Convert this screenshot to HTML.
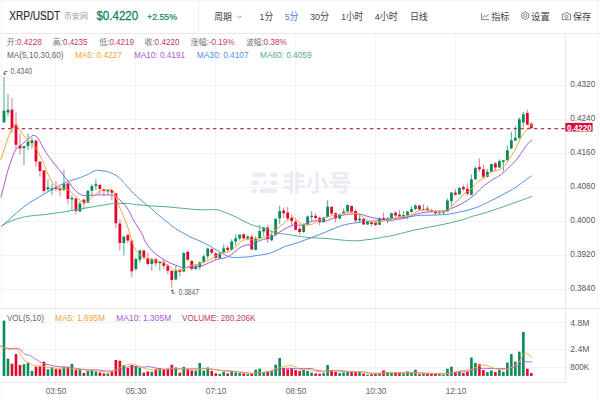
<!DOCTYPE html>
<html lang="zh"><head><meta charset="utf-8"><title>XRP/USDT</title>
<style>html,body{margin:0;padding:0;background:#fff;overflow:hidden}svg{display:block}</style></head>
<body>
<svg width="600" height="400" viewBox="0 0 600 400" font-family='"Liberation Sans", "Noto Sans CJK SC", sans-serif'>
<rect width="600" height="400" fill="#ffffff"/>
<g stroke="#f3f3f3" stroke-width="1" shape-rendering="crispEdges">
<line x1="55.5" y1="34" x2="55.5" y2="385"/>
<line x1="135.5" y1="34" x2="135.5" y2="385"/>
<line x1="215.5" y1="34" x2="215.5" y2="385"/>
<line x1="295.5" y1="34" x2="295.5" y2="385"/>
<line x1="375.5" y1="34" x2="375.5" y2="385"/>
<line x1="455.5" y1="34" x2="455.5" y2="385"/>
<line x1="0" y1="85.5" x2="569" y2="85.5"/>
<line x1="0" y1="119.5" x2="569" y2="119.5"/>
<line x1="0" y1="153.5" x2="569" y2="153.5"/>
<line x1="0" y1="187.5" x2="569" y2="187.5"/>
<line x1="0" y1="221.5" x2="569" y2="221.5"/>
<line x1="0" y1="255.5" x2="569" y2="255.5"/>
<line x1="0" y1="289.5" x2="569" y2="289.5"/>
<line x1="0" y1="322.5" x2="569" y2="322.5"/>
<line x1="0" y1="349.5" x2="569" y2="349.5"/>
<line x1="0" y1="367.5" x2="569" y2="367.5"/>
</g>
<g stroke="#e9e9e9" stroke-width="1" shape-rendering="crispEdges">
<line x1="0" y1="33.5" x2="600" y2="33.5"/>
<line x1="198.5" y1="0" x2="198.5" y2="33" stroke="#efefef"/>
<line x1="0" y1="308.5" x2="600" y2="308.5"/>
<line x1="0" y1="382" x2="566" y2="382"/>
<line x1="565.5" y1="34" x2="565.5" y2="382"/>
</g>
<g stroke="#f4f5f9" stroke-width="1" shape-rendering="crispEdges"><line x1="1.5" y1="0" x2="1.5" y2="400"/><line x1="597.5" y1="0" x2="597.5" y2="400"/><line x1="0" y1="0.5" x2="600" y2="0.5"/></g>
<g fill="#e9ecf3">
<rect x="251.5" y="172.5" width="15" height="4.6" rx="2.3"/>
<rect x="270" y="172.5" width="7.5" height="4.6" rx="2.3"/>
<rect x="251.5" y="180.5" width="8" height="4.6" rx="2.3"/>
<rect x="263" y="180.5" width="4" height="4.6" rx="2.3"/>
<rect x="270" y="180.5" width="7.5" height="4.6" rx="2.3"/>
<rect x="251.5" y="188.5" width="5.5" height="4.6" rx="2.3"/>
<rect x="259.5" y="188.5" width="18" height="4.6" rx="2.3"/>
</g>
<text x="282.5" y="190.5" font-size="23" fill="#e9ecf3" textLength="69" lengthAdjust="spacingAndGlyphs" font-weight="bold">非小号</text>
<g>
<line x1="4.0" y1="76.75" x2="4.0" y2="122.50" stroke="#62b298" stroke-width="1.1"/>
<rect x="2.60" y="110.80" width="2.8" height="11.60" fill="#0a8a58" rx="0.3"/>
<line x1="7.995" y1="94.30" x2="7.995" y2="116.00" stroke="#62b298" stroke-width="1.1"/>
<rect x="6.60" y="109.70" width="2.8" height="2.80" fill="#0a8a58" rx="0.3"/>
<line x1="11.99" y1="97.75" x2="11.99" y2="133.00" stroke="#ea8195" stroke-width="1.1"/>
<rect x="10.59" y="109.50" width="2.8" height="18.50" fill="#e2062c" rx="0.3"/>
<line x1="15.985" y1="112.40" x2="15.985" y2="149.40" stroke="#ea8195" stroke-width="1.1"/>
<rect x="14.58" y="124.50" width="2.8" height="20.20" fill="#e2062c" rx="0.3"/>
<line x1="19.98" y1="133.50" x2="19.98" y2="154.40" stroke="#ea8195" stroke-width="1.1"/>
<rect x="18.58" y="145.50" width="2.8" height="3.10" fill="#e2062c" rx="0.3"/>
<line x1="23.975" y1="146.00" x2="23.975" y2="165.30" stroke="#62b298" stroke-width="1.1"/>
<rect x="22.58" y="146.00" width="2.8" height="2.20" fill="#0a8a58" rx="0.3"/>
<line x1="27.97" y1="133.50" x2="27.97" y2="150.30" stroke="#62b298" stroke-width="1.1"/>
<rect x="26.57" y="141.90" width="2.8" height="4.10" fill="#0a8a58" rx="0.3"/>
<line x1="31.965" y1="137.70" x2="31.965" y2="148.60" stroke="#62b298" stroke-width="1.1"/>
<rect x="30.57" y="140.20" width="2.8" height="3.00" fill="#0a8a58" rx="0.3"/>
<line x1="35.96" y1="138.90" x2="35.96" y2="166.75" stroke="#ea8195" stroke-width="1.1"/>
<rect x="34.56" y="140.70" width="2.8" height="20.80" fill="#e2062c" rx="0.3"/>
<line x1="39.955" y1="161.40" x2="39.955" y2="176.80" stroke="#ea8195" stroke-width="1.1"/>
<rect x="38.55" y="161.40" width="2.8" height="9.50" fill="#e2062c" rx="0.3"/>
<line x1="43.95" y1="170.00" x2="43.95" y2="193.20" stroke="#ea8195" stroke-width="1.1"/>
<rect x="42.55" y="170.40" width="2.8" height="20.60" fill="#e2062c" rx="0.3"/>
<line x1="47.945" y1="179.30" x2="47.945" y2="191.90" stroke="#62b298" stroke-width="1.1"/>
<rect x="46.55" y="187.20" width="2.8" height="2.20" fill="#0a8a58" rx="0.3"/>
<line x1="51.94" y1="183.50" x2="51.94" y2="194.90" stroke="#62b298" stroke-width="1.1"/>
<rect x="50.54" y="188.20" width="2.8" height="2.00" fill="#0a8a58" rx="0.3"/>
<line x1="55.935" y1="181.00" x2="55.935" y2="191.00" stroke="#ea8195" stroke-width="1.1"/>
<rect x="54.54" y="187.20" width="2.8" height="1.70" fill="#e2062c" rx="0.3"/>
<line x1="59.93" y1="186.00" x2="59.93" y2="195.60" stroke="#ea8195" stroke-width="1.1"/>
<rect x="58.53" y="188.20" width="2.8" height="2.00" fill="#e2062c" rx="0.3"/>
<line x1="63.925000000000004" y1="170.10" x2="63.925000000000004" y2="191.00" stroke="#62b298" stroke-width="1.1"/>
<rect x="62.53" y="183.50" width="2.8" height="6.70" fill="#0a8a58" rx="0.3"/>
<line x1="67.92" y1="182.70" x2="67.92" y2="204.40" stroke="#ea8195" stroke-width="1.1"/>
<rect x="66.52" y="183.50" width="2.8" height="15.40" fill="#e2062c" rx="0.3"/>
<line x1="71.915" y1="195.20" x2="71.915" y2="210.30" stroke="#62b298" stroke-width="1.1"/>
<rect x="70.52" y="197.70" width="2.8" height="1.70" fill="#0a8a58" rx="0.3"/>
<line x1="75.91" y1="197.70" x2="75.91" y2="213.70" stroke="#ea8195" stroke-width="1.1"/>
<rect x="74.51" y="198.60" width="2.8" height="12.50" fill="#e2062c" rx="0.3"/>
<line x1="79.905" y1="201.10" x2="79.905" y2="212.30" stroke="#62b298" stroke-width="1.1"/>
<rect x="78.50" y="203.60" width="2.8" height="8.00" fill="#0a8a58" rx="0.3"/>
<line x1="83.9" y1="199.40" x2="83.9" y2="209.50" stroke="#ea8195" stroke-width="1.1"/>
<rect x="82.50" y="199.40" width="2.8" height="3.90" fill="#e2062c" rx="0.3"/>
<line x1="87.895" y1="190.20" x2="87.895" y2="203.00" stroke="#62b298" stroke-width="1.1"/>
<rect x="86.49" y="190.70" width="2.8" height="12.10" fill="#0a8a58" rx="0.3"/>
<line x1="91.89" y1="184.30" x2="91.89" y2="196.00" stroke="#62b298" stroke-width="1.1"/>
<rect x="90.49" y="186.00" width="2.8" height="4.70" fill="#0a8a58" rx="0.3"/>
<line x1="95.885" y1="179.30" x2="95.885" y2="190.20" stroke="#62b298" stroke-width="1.1"/>
<rect x="94.48" y="184.30" width="2.8" height="1.70" fill="#0a8a58" rx="0.3"/>
<line x1="99.88" y1="184.80" x2="99.88" y2="193.90" stroke="#ea8195" stroke-width="1.1"/>
<rect x="98.48" y="184.80" width="2.8" height="4.10" fill="#e2062c" rx="0.3"/>
<line x1="103.875" y1="188.50" x2="103.875" y2="196.00" stroke="#ea8195" stroke-width="1.1"/>
<rect x="102.47" y="188.90" width="2.8" height="2.10" fill="#e2062c" rx="0.3"/>
<line x1="107.87" y1="189.40" x2="107.87" y2="194.40" stroke="#62b298" stroke-width="1.1"/>
<rect x="106.47" y="190.20" width="2.8" height="1.30" fill="#0a8a58" rx="0.3"/>
<line x1="111.86500000000001" y1="189.90" x2="111.86500000000001" y2="200.25" stroke="#ea8195" stroke-width="1.1"/>
<rect x="110.47" y="189.90" width="2.8" height="2.80" fill="#e2062c" rx="0.3"/>
<line x1="115.86" y1="193.00" x2="115.86" y2="227.70" stroke="#ea8195" stroke-width="1.1"/>
<rect x="114.46" y="193.30" width="2.8" height="29.90" fill="#e2062c" rx="0.3"/>
<line x1="119.855" y1="219.30" x2="119.855" y2="250.50" stroke="#ea8195" stroke-width="1.1"/>
<rect x="118.45" y="223.50" width="2.8" height="19.50" fill="#e2062c" rx="0.3"/>
<line x1="123.85000000000001" y1="236.35" x2="123.85000000000001" y2="255.60" stroke="#62b298" stroke-width="1.1"/>
<rect x="122.45" y="236.50" width="2.8" height="6.50" fill="#0a8a58" rx="0.3"/>
<line x1="127.845" y1="234.70" x2="127.845" y2="243.00" stroke="#ea8195" stroke-width="1.1"/>
<rect x="126.44" y="234.80" width="2.8" height="5.70" fill="#e2062c" rx="0.3"/>
<line x1="131.84" y1="240.50" x2="131.84" y2="276.90" stroke="#ea8195" stroke-width="1.1"/>
<rect x="130.44" y="240.50" width="2.8" height="30.70" fill="#e2062c" rx="0.3"/>
<line x1="135.835" y1="257.30" x2="135.835" y2="270.70" stroke="#62b298" stroke-width="1.1"/>
<rect x="134.44" y="259.00" width="2.8" height="10.00" fill="#0a8a58" rx="0.3"/>
<line x1="139.83" y1="250.25" x2="139.83" y2="262.80" stroke="#62b298" stroke-width="1.1"/>
<rect x="138.43" y="250.25" width="2.8" height="9.55" fill="#0a8a58" rx="0.3"/>
<line x1="143.82500000000002" y1="249.75" x2="143.82500000000002" y2="259.00" stroke="#ea8195" stroke-width="1.1"/>
<rect x="142.43" y="250.60" width="2.8" height="7.20" fill="#e2062c" rx="0.3"/>
<line x1="147.82" y1="253.10" x2="147.82" y2="265.70" stroke="#ea8195" stroke-width="1.1"/>
<rect x="146.42" y="258.10" width="2.8" height="5.90" fill="#e2062c" rx="0.3"/>
<line x1="151.815" y1="258.10" x2="151.815" y2="270.70" stroke="#62b298" stroke-width="1.1"/>
<rect x="150.41" y="259.50" width="2.8" height="4.50" fill="#0a8a58" rx="0.3"/>
<line x1="155.81" y1="257.80" x2="155.81" y2="266.50" stroke="#ea8195" stroke-width="1.1"/>
<rect x="154.41" y="259.00" width="2.8" height="4.15" fill="#e2062c" rx="0.3"/>
<line x1="159.805" y1="261.50" x2="159.805" y2="270.70" stroke="#62b298" stroke-width="1.1"/>
<rect x="158.41" y="261.50" width="2.8" height="1.65" fill="#0a8a58" rx="0.3"/>
<line x1="163.8" y1="259.80" x2="163.8" y2="269.00" stroke="#ea8195" stroke-width="1.1"/>
<rect x="162.40" y="262.30" width="2.8" height="3.40" fill="#e2062c" rx="0.3"/>
<line x1="167.79500000000002" y1="264.00" x2="167.79500000000002" y2="274.00" stroke="#ea8195" stroke-width="1.1"/>
<rect x="166.40" y="265.70" width="2.8" height="5.00" fill="#e2062c" rx="0.3"/>
<line x1="171.79" y1="270.70" x2="171.79" y2="287.40" stroke="#ea8195" stroke-width="1.1"/>
<rect x="170.39" y="270.70" width="2.8" height="9.20" fill="#e2062c" rx="0.3"/>
<line x1="175.785" y1="265.70" x2="175.785" y2="280.00" stroke="#62b298" stroke-width="1.1"/>
<rect x="174.38" y="270.20" width="2.8" height="9.40" fill="#0a8a58" rx="0.3"/>
<line x1="179.78" y1="269.00" x2="179.78" y2="276.55" stroke="#ea8195" stroke-width="1.1"/>
<rect x="178.38" y="269.85" width="2.8" height="2.05" fill="#e2062c" rx="0.3"/>
<line x1="183.775" y1="252.30" x2="183.775" y2="271.90" stroke="#62b298" stroke-width="1.1"/>
<rect x="182.38" y="253.10" width="2.8" height="18.40" fill="#0a8a58" rx="0.3"/>
<line x1="187.77" y1="250.60" x2="187.77" y2="261.50" stroke="#ea8195" stroke-width="1.1"/>
<rect x="186.37" y="251.80" width="2.8" height="8.00" fill="#e2062c" rx="0.3"/>
<line x1="191.76500000000001" y1="259.80" x2="191.76500000000001" y2="270.70" stroke="#ea8195" stroke-width="1.1"/>
<rect x="190.37" y="261.10" width="2.8" height="7.90" fill="#e2062c" rx="0.3"/>
<line x1="195.76" y1="264.00" x2="195.76" y2="269.85" stroke="#62b298" stroke-width="1.1"/>
<rect x="194.36" y="265.70" width="2.8" height="3.30" fill="#0a8a58" rx="0.3"/>
<line x1="199.755" y1="261.50" x2="199.755" y2="269.85" stroke="#62b298" stroke-width="1.1"/>
<rect x="198.35" y="262.30" width="2.8" height="5.00" fill="#0a8a58" rx="0.3"/>
<line x1="203.75" y1="254.40" x2="203.75" y2="263.60" stroke="#62b298" stroke-width="1.1"/>
<rect x="202.35" y="256.30" width="2.8" height="5.80" fill="#0a8a58" rx="0.3"/>
<line x1="207.745" y1="247.70" x2="207.745" y2="259.60" stroke="#62b298" stroke-width="1.1"/>
<rect x="206.34" y="248.40" width="2.8" height="7.90" fill="#0a8a58" rx="0.3"/>
<line x1="211.74" y1="248.20" x2="211.74" y2="254.40" stroke="#ea8195" stroke-width="1.1"/>
<rect x="210.34" y="248.90" width="2.8" height="3.80" fill="#e2062c" rx="0.3"/>
<line x1="215.735" y1="252.40" x2="215.735" y2="260.30" stroke="#ea8195" stroke-width="1.1"/>
<rect x="214.34" y="253.20" width="2.8" height="4.60" fill="#e2062c" rx="0.3"/>
<line x1="219.73000000000002" y1="251.90" x2="219.73000000000002" y2="258.60" stroke="#62b298" stroke-width="1.1"/>
<rect x="218.33" y="253.20" width="2.8" height="5.10" fill="#0a8a58" rx="0.3"/>
<line x1="223.725" y1="244.40" x2="223.725" y2="253.60" stroke="#62b298" stroke-width="1.1"/>
<rect x="222.32" y="248.20" width="2.8" height="4.50" fill="#0a8a58" rx="0.3"/>
<line x1="227.72" y1="246.00" x2="227.72" y2="251.90" stroke="#ea8195" stroke-width="1.1"/>
<rect x="226.32" y="247.70" width="2.8" height="2.20" fill="#e2062c" rx="0.3"/>
<line x1="231.715" y1="239.30" x2="231.715" y2="250.20" stroke="#62b298" stroke-width="1.1"/>
<rect x="230.31" y="241.50" width="2.8" height="8.40" fill="#0a8a58" rx="0.3"/>
<line x1="235.71" y1="234.30" x2="235.71" y2="245.20" stroke="#62b298" stroke-width="1.1"/>
<rect x="234.31" y="238.20" width="2.8" height="3.30" fill="#0a8a58" rx="0.3"/>
<line x1="239.705" y1="234.30" x2="239.705" y2="240.50" stroke="#62b298" stroke-width="1.1"/>
<rect x="238.31" y="234.80" width="2.8" height="3.70" fill="#0a8a58" rx="0.3"/>
<line x1="243.70000000000002" y1="233.80" x2="243.70000000000002" y2="239.30" stroke="#ea8195" stroke-width="1.1"/>
<rect x="242.30" y="234.30" width="2.8" height="4.20" fill="#e2062c" rx="0.3"/>
<line x1="247.695" y1="235.15" x2="247.695" y2="240.20" stroke="#62b298" stroke-width="1.1"/>
<rect x="246.29" y="236.50" width="2.8" height="2.00" fill="#0a8a58" rx="0.3"/>
<line x1="251.69" y1="234.30" x2="251.69" y2="249.90" stroke="#ea8195" stroke-width="1.1"/>
<rect x="250.29" y="236.80" width="2.8" height="12.60" fill="#e2062c" rx="0.3"/>
<line x1="255.685" y1="236.00" x2="255.685" y2="250.20" stroke="#62b298" stroke-width="1.1"/>
<rect x="254.28" y="238.50" width="2.8" height="11.40" fill="#0a8a58" rx="0.3"/>
<line x1="259.68" y1="225.10" x2="259.68" y2="239.30" stroke="#62b298" stroke-width="1.1"/>
<rect x="258.28" y="231.00" width="2.8" height="7.50" fill="#0a8a58" rx="0.3"/>
<line x1="263.675" y1="226.80" x2="263.675" y2="236.00" stroke="#62b298" stroke-width="1.1"/>
<rect x="262.28" y="227.60" width="2.8" height="3.90" fill="#0a8a58" rx="0.3"/>
<line x1="267.67" y1="225.10" x2="267.67" y2="242.70" stroke="#ea8195" stroke-width="1.1"/>
<rect x="266.27" y="227.60" width="2.8" height="11.70" fill="#e2062c" rx="0.3"/>
<line x1="271.665" y1="231.00" x2="271.665" y2="241.00" stroke="#62b298" stroke-width="1.1"/>
<rect x="270.27" y="235.15" width="2.8" height="5.05" fill="#0a8a58" rx="0.3"/>
<line x1="275.66" y1="218.40" x2="275.66" y2="236.00" stroke="#62b298" stroke-width="1.1"/>
<rect x="274.26" y="218.70" width="2.8" height="16.10" fill="#0a8a58" rx="0.3"/>
<line x1="279.65500000000003" y1="205.80" x2="279.65500000000003" y2="224.30" stroke="#62b298" stroke-width="1.1"/>
<rect x="278.26" y="210.90" width="2.8" height="7.50" fill="#0a8a58" rx="0.3"/>
<line x1="283.65000000000003" y1="207.50" x2="283.65000000000003" y2="218.40" stroke="#ea8195" stroke-width="1.1"/>
<rect x="282.25" y="210.50" width="2.8" height="2.80" fill="#e2062c" rx="0.3"/>
<line x1="287.645" y1="207.00" x2="287.645" y2="220.00" stroke="#ea8195" stroke-width="1.1"/>
<rect x="286.25" y="212.40" width="2.8" height="6.20" fill="#e2062c" rx="0.3"/>
<line x1="291.64" y1="214.30" x2="291.64" y2="225.50" stroke="#ea8195" stroke-width="1.1"/>
<rect x="290.24" y="217.80" width="2.8" height="3.20" fill="#e2062c" rx="0.3"/>
<line x1="295.635" y1="218.40" x2="295.635" y2="230.20" stroke="#ea8195" stroke-width="1.1"/>
<rect x="294.24" y="221.80" width="2.8" height="7.90" fill="#e2062c" rx="0.3"/>
<line x1="299.63" y1="226.50" x2="299.63" y2="234.60" stroke="#ea8195" stroke-width="1.1"/>
<rect x="298.23" y="228.70" width="2.8" height="3.30" fill="#e2062c" rx="0.3"/>
<line x1="303.625" y1="223.50" x2="303.625" y2="232.70" stroke="#62b298" stroke-width="1.1"/>
<rect x="302.23" y="224.60" width="2.8" height="7.40" fill="#0a8a58" rx="0.3"/>
<line x1="307.62" y1="215.50" x2="307.62" y2="225.20" stroke="#62b298" stroke-width="1.1"/>
<rect x="306.22" y="216.50" width="2.8" height="8.10" fill="#0a8a58" rx="0.3"/>
<line x1="311.615" y1="211.20" x2="311.615" y2="220.40" stroke="#62b298" stroke-width="1.1"/>
<rect x="310.22" y="215.80" width="2.8" height="1.20" fill="#0a8a58" rx="0.3"/>
<line x1="315.61" y1="213.60" x2="315.61" y2="219.40" stroke="#ea8195" stroke-width="1.1"/>
<rect x="314.21" y="215.80" width="2.8" height="2.10" fill="#e2062c" rx="0.3"/>
<line x1="319.605" y1="216.80" x2="319.605" y2="225.10" stroke="#ea8195" stroke-width="1.1"/>
<rect x="318.21" y="217.70" width="2.8" height="4.60" fill="#e2062c" rx="0.3"/>
<line x1="323.6" y1="216.80" x2="323.6" y2="222.70" stroke="#62b298" stroke-width="1.1"/>
<rect x="322.20" y="217.60" width="2.8" height="4.70" fill="#0a8a58" rx="0.3"/>
<line x1="327.595" y1="200.30" x2="327.595" y2="217.70" stroke="#62b298" stroke-width="1.1"/>
<rect x="326.20" y="206.60" width="2.8" height="10.60" fill="#0a8a58" rx="0.3"/>
<line x1="331.59000000000003" y1="206.40" x2="331.59000000000003" y2="215.15" stroke="#ea8195" stroke-width="1.1"/>
<rect x="330.19" y="206.80" width="2.8" height="6.70" fill="#e2062c" rx="0.3"/>
<line x1="335.58500000000004" y1="212.60" x2="335.58500000000004" y2="222.20" stroke="#ea8195" stroke-width="1.1"/>
<rect x="334.19" y="213.10" width="2.8" height="5.40" fill="#e2062c" rx="0.3"/>
<line x1="339.58" y1="213.80" x2="339.58" y2="219.30" stroke="#62b298" stroke-width="1.1"/>
<rect x="338.18" y="214.30" width="2.8" height="4.20" fill="#0a8a58" rx="0.3"/>
<line x1="343.575" y1="208.45" x2="343.575" y2="214.30" stroke="#62b298" stroke-width="1.1"/>
<rect x="342.18" y="211.50" width="2.8" height="2.00" fill="#0a8a58" rx="0.3"/>
<line x1="347.57" y1="204.30" x2="347.57" y2="211.80" stroke="#62b298" stroke-width="1.1"/>
<rect x="346.17" y="205.10" width="2.8" height="6.40" fill="#0a8a58" rx="0.3"/>
<line x1="351.565" y1="205.40" x2="351.565" y2="212.60" stroke="#ea8195" stroke-width="1.1"/>
<rect x="350.17" y="205.90" width="2.8" height="5.90" fill="#e2062c" rx="0.3"/>
<line x1="355.56" y1="209.30" x2="355.56" y2="222.70" stroke="#ea8195" stroke-width="1.1"/>
<rect x="354.16" y="211.00" width="2.8" height="9.50" fill="#e2062c" rx="0.3"/>
<line x1="359.555" y1="214.30" x2="359.555" y2="221.85" stroke="#62b298" stroke-width="1.1"/>
<rect x="358.16" y="218.50" width="2.8" height="2.00" fill="#0a8a58" rx="0.3"/>
<line x1="363.55" y1="218.50" x2="363.55" y2="224.90" stroke="#ea8195" stroke-width="1.1"/>
<rect x="362.15" y="218.80" width="2.8" height="5.60" fill="#e2062c" rx="0.3"/>
<line x1="367.545" y1="221.00" x2="367.545" y2="224.90" stroke="#62b298" stroke-width="1.1"/>
<rect x="366.15" y="221.50" width="2.8" height="2.90" fill="#0a8a58" rx="0.3"/>
<line x1="371.54" y1="221.50" x2="371.54" y2="226.00" stroke="#ea8195" stroke-width="1.1"/>
<rect x="370.14" y="222.20" width="2.8" height="1.70" fill="#e2062c" rx="0.3"/>
<line x1="375.535" y1="222.20" x2="375.535" y2="226.00" stroke="#ea8195" stroke-width="1.1"/>
<rect x="374.14" y="222.70" width="2.8" height="2.20" fill="#e2062c" rx="0.3"/>
<line x1="379.53000000000003" y1="217.20" x2="379.53000000000003" y2="225.20" stroke="#62b298" stroke-width="1.1"/>
<rect x="378.13" y="218.50" width="2.8" height="6.20" fill="#0a8a58" rx="0.3"/>
<line x1="383.52500000000003" y1="212.60" x2="383.52500000000003" y2="220.30" stroke="#ea8195" stroke-width="1.1"/>
<rect x="382.13" y="217.90" width="2.8" height="2.10" fill="#e2062c" rx="0.3"/>
<line x1="387.52" y1="216.90" x2="387.52" y2="223.30" stroke="#62b298" stroke-width="1.1"/>
<rect x="386.12" y="218.60" width="2.8" height="1.70" fill="#0a8a58" rx="0.3"/>
<line x1="391.515" y1="212.70" x2="391.515" y2="219.40" stroke="#62b298" stroke-width="1.1"/>
<rect x="390.12" y="213.20" width="2.8" height="5.70" fill="#0a8a58" rx="0.3"/>
<line x1="395.51" y1="211.00" x2="395.51" y2="216.90" stroke="#ea8195" stroke-width="1.1"/>
<rect x="394.11" y="212.70" width="2.8" height="2.90" fill="#e2062c" rx="0.3"/>
<line x1="399.505" y1="210.20" x2="399.505" y2="217.20" stroke="#ea8195" stroke-width="1.1"/>
<rect x="398.11" y="214.40" width="2.8" height="2.20" fill="#e2062c" rx="0.3"/>
<line x1="403.5" y1="211.00" x2="403.5" y2="217.20" stroke="#62b298" stroke-width="1.1"/>
<rect x="402.10" y="214.90" width="2.8" height="1.70" fill="#0a8a58" rx="0.3"/>
<line x1="407.495" y1="211.00" x2="407.495" y2="219.40" stroke="#62b298" stroke-width="1.1"/>
<rect x="406.10" y="211.50" width="2.8" height="4.10" fill="#0a8a58" rx="0.3"/>
<line x1="411.49" y1="206.00" x2="411.49" y2="212.70" stroke="#62b298" stroke-width="1.1"/>
<rect x="410.09" y="208.90" width="2.8" height="3.00" fill="#0a8a58" rx="0.3"/>
<line x1="415.485" y1="204.30" x2="415.485" y2="210.20" stroke="#62b298" stroke-width="1.1"/>
<rect x="414.09" y="205.50" width="2.8" height="3.40" fill="#0a8a58" rx="0.3"/>
<line x1="419.48" y1="204.80" x2="419.48" y2="210.20" stroke="#ea8195" stroke-width="1.1"/>
<rect x="418.08" y="205.50" width="2.8" height="3.90" fill="#e2062c" rx="0.3"/>
<line x1="423.475" y1="204.30" x2="423.475" y2="211.00" stroke="#62b298" stroke-width="1.1"/>
<rect x="422.08" y="208.90" width="2.8" height="1.30" fill="#0a8a58" rx="0.3"/>
<line x1="427.47" y1="206.00" x2="427.47" y2="211.50" stroke="#ea8195" stroke-width="1.1"/>
<rect x="426.07" y="208.50" width="2.8" height="1.70" fill="#e2062c" rx="0.3"/>
<line x1="431.46500000000003" y1="208.90" x2="431.46500000000003" y2="212.20" stroke="#ea8195" stroke-width="1.1"/>
<rect x="430.07" y="209.90" width="2.8" height="1.60" fill="#e2062c" rx="0.3"/>
<line x1="435.46000000000004" y1="210.20" x2="435.46000000000004" y2="215.20" stroke="#ea8195" stroke-width="1.1"/>
<rect x="434.06" y="211.00" width="2.8" height="2.20" fill="#e2062c" rx="0.3"/>
<line x1="439.455" y1="211.00" x2="439.455" y2="214.40" stroke="#62b298" stroke-width="1.1"/>
<rect x="438.06" y="211.90" width="2.8" height="1.30" fill="#0a8a58" rx="0.3"/>
<line x1="443.45" y1="211.50" x2="443.45" y2="214.90" stroke="#62b298" stroke-width="1.1"/>
<rect x="442.05" y="211.90" width="2.8" height="1.20" fill="#0a8a58" rx="0.3"/>
<line x1="447.445" y1="198.50" x2="447.445" y2="211.90" stroke="#62b298" stroke-width="1.1"/>
<rect x="446.05" y="200.50" width="2.8" height="11.00" fill="#0a8a58" rx="0.3"/>
<line x1="451.44" y1="192.10" x2="451.44" y2="206.00" stroke="#62b298" stroke-width="1.1"/>
<rect x="450.04" y="192.60" width="2.8" height="8.40" fill="#0a8a58" rx="0.3"/>
<line x1="455.435" y1="189.30" x2="455.435" y2="195.50" stroke="#ea8195" stroke-width="1.1"/>
<rect x="454.04" y="192.60" width="2.8" height="2.20" fill="#e2062c" rx="0.3"/>
<line x1="459.43" y1="186.75" x2="459.43" y2="195.10" stroke="#62b298" stroke-width="1.1"/>
<rect x="458.03" y="188.10" width="2.8" height="6.20" fill="#0a8a58" rx="0.3"/>
<line x1="463.425" y1="184.70" x2="463.425" y2="190.70" stroke="#ea8195" stroke-width="1.1"/>
<rect x="462.03" y="187.00" width="2.8" height="2.30" fill="#e2062c" rx="0.3"/>
<line x1="467.42" y1="183.60" x2="467.42" y2="195.50" stroke="#ea8195" stroke-width="1.1"/>
<rect x="466.02" y="188.80" width="2.8" height="5.00" fill="#e2062c" rx="0.3"/>
<line x1="471.415" y1="174.50" x2="471.415" y2="195.50" stroke="#62b298" stroke-width="1.1"/>
<rect x="470.02" y="179.20" width="2.8" height="15.60" fill="#0a8a58" rx="0.3"/>
<line x1="475.41" y1="166.20" x2="475.41" y2="180.00" stroke="#62b298" stroke-width="1.1"/>
<rect x="474.01" y="168.10" width="2.8" height="11.10" fill="#0a8a58" rx="0.3"/>
<line x1="479.40500000000003" y1="158.50" x2="479.40500000000003" y2="171.80" stroke="#ea8195" stroke-width="1.1"/>
<rect x="478.01" y="167.10" width="2.8" height="2.20" fill="#e2062c" rx="0.3"/>
<line x1="483.40000000000003" y1="164.80" x2="483.40000000000003" y2="178.80" stroke="#ea8195" stroke-width="1.1"/>
<rect x="482.00" y="169.30" width="2.8" height="7.50" fill="#e2062c" rx="0.3"/>
<line x1="487.39500000000004" y1="169.30" x2="487.39500000000004" y2="177.60" stroke="#62b298" stroke-width="1.1"/>
<rect x="486.00" y="171.80" width="2.8" height="5.00" fill="#0a8a58" rx="0.3"/>
<line x1="491.39" y1="163.50" x2="491.39" y2="172.60" stroke="#62b298" stroke-width="1.1"/>
<rect x="489.99" y="164.00" width="2.8" height="7.80" fill="#0a8a58" rx="0.3"/>
<line x1="495.385" y1="162.00" x2="495.385" y2="170.90" stroke="#ea8195" stroke-width="1.1"/>
<rect x="493.99" y="163.50" width="2.8" height="4.10" fill="#e2062c" rx="0.3"/>
<line x1="499.38" y1="159.30" x2="499.38" y2="168.10" stroke="#62b298" stroke-width="1.1"/>
<rect x="497.98" y="161.00" width="2.8" height="6.60" fill="#0a8a58" rx="0.3"/>
<line x1="503.375" y1="160.00" x2="503.375" y2="171.40" stroke="#62b298" stroke-width="1.1"/>
<rect x="501.98" y="160.30" width="2.8" height="1.70" fill="#0a8a58" rx="0.3"/>
<line x1="507.37" y1="145.60" x2="507.37" y2="160.60" stroke="#62b298" stroke-width="1.1"/>
<rect x="505.97" y="150.25" width="2.8" height="10.05" fill="#0a8a58" rx="0.3"/>
<line x1="511.365" y1="131.80" x2="511.365" y2="149.00" stroke="#62b298" stroke-width="1.1"/>
<rect x="509.97" y="140.20" width="2.8" height="8.40" fill="#0a8a58" rx="0.3"/>
<line x1="515.36" y1="126.00" x2="515.36" y2="141.00" stroke="#62b298" stroke-width="1.1"/>
<rect x="513.96" y="137.70" width="2.8" height="2.80" fill="#0a8a58" rx="0.3"/>
<line x1="519.355" y1="117.60" x2="519.355" y2="139.40" stroke="#62b298" stroke-width="1.1"/>
<rect x="517.96" y="119.30" width="2.8" height="18.40" fill="#0a8a58" rx="0.3"/>
<line x1="523.35" y1="112.00" x2="523.35" y2="127.60" stroke="#62b298" stroke-width="1.1"/>
<rect x="521.95" y="114.20" width="2.8" height="8.40" fill="#0a8a58" rx="0.3"/>
<line x1="527.345" y1="109.70" x2="527.345" y2="125.00" stroke="#ea8195" stroke-width="1.1"/>
<rect x="525.95" y="113.10" width="2.8" height="11.70" fill="#e2062c" rx="0.3"/>
<line x1="531.34" y1="122.00" x2="531.34" y2="128.40" stroke="#ea8195" stroke-width="1.1"/>
<rect x="529.94" y="123.80" width="2.8" height="4.50" fill="#e2062c" rx="0.3"/>
</g>
<path d="M1.50 226.20C2.50 225.58 5.25 223.62 7.50 222.50C9.75 221.38 12.50 220.35 15.00 219.50C17.50 218.65 20.00 217.98 22.50 217.40C25.00 216.82 25.96 216.52 30.00 216.00C34.04 215.48 41.17 214.97 46.75 214.30C52.33 213.63 57.92 212.88 63.50 212.00C69.08 211.12 74.67 209.98 80.25 209.00C85.83 208.02 91.97 206.95 97.00 206.10C102.03 205.25 107.40 204.40 110.40 203.90C113.40 203.40 113.88 203.20 115.00 203.10C116.12 203.00 114.60 203.22 117.10 203.30C119.60 203.38 127.27 203.43 130.00 203.60C132.73 203.77 130.12 203.92 133.50 204.30C136.88 204.68 144.67 205.48 150.25 205.90C155.83 206.32 161.42 206.38 167.00 206.80C172.58 207.23 178.25 207.95 183.75 208.45C189.25 208.95 194.64 209.59 200.00 209.80C205.36 210.01 211.72 209.25 215.90 209.70C220.08 210.15 222.17 211.47 225.10 212.50C228.03 213.53 230.70 214.63 233.50 215.90C236.30 217.17 239.11 218.70 241.90 220.10C244.69 221.50 247.47 223.18 250.25 224.30C253.03 225.42 255.81 225.97 258.60 226.80C261.39 227.63 265.10 228.67 267.00 229.30C268.90 229.93 268.67 230.07 270.00 230.60C271.33 231.13 272.92 231.97 275.00 232.50C277.08 233.03 279.17 233.23 282.50 233.75C285.83 234.27 290.83 234.97 295.00 235.60C299.17 236.22 303.33 237.08 307.50 237.50C311.67 237.92 316.25 237.89 320.00 238.10C323.75 238.31 326.62 238.45 330.00 238.75C333.38 239.05 337.15 239.59 340.25 239.90C343.35 240.21 345.81 240.45 348.60 240.60C351.39 240.75 354.20 240.92 357.00 240.80C359.80 240.68 362.61 240.22 365.40 239.90C368.19 239.58 370.97 239.33 373.75 238.90C376.53 238.47 380.23 237.62 382.10 237.30C383.98 236.98 382.56 237.47 385.00 237.00C387.44 236.53 392.00 235.62 396.75 234.50C401.50 233.38 407.92 231.56 413.50 230.30C419.08 229.04 424.67 228.07 430.25 226.95C435.83 225.83 441.42 224.86 447.00 223.60C452.58 222.34 459.90 220.50 463.75 219.40C467.60 218.30 466.81 218.02 470.10 217.00C473.39 215.98 478.48 214.83 483.50 213.30C488.52 211.77 494.67 209.70 500.25 207.80C505.83 205.90 511.77 203.77 517.00 201.90C522.23 200.03 529.17 197.48 531.60 196.60" fill="none" stroke="#4fb184" stroke-width="1.0" stroke-linejoin="round" stroke-linecap="round"/>
<path d="M1.50 226.20C2.50 225.33 5.25 223.00 7.50 221.00C9.75 219.00 12.50 216.40 15.00 214.20C17.50 212.00 20.00 209.77 22.50 207.80C25.00 205.83 27.35 204.10 30.00 202.40C32.65 200.70 35.61 199.25 38.40 197.60C41.19 195.95 43.97 194.15 46.75 192.50C49.53 190.85 52.31 189.20 55.10 187.70C57.89 186.20 60.70 184.76 63.50 183.50C66.30 182.24 69.11 181.13 71.90 180.15C74.69 179.17 77.47 178.61 80.25 177.60C83.03 176.59 86.47 175.08 88.60 174.10C90.72 173.12 91.68 172.32 93.00 171.70C94.32 171.08 95.33 170.60 96.50 170.40C97.67 170.20 98.75 170.38 100.00 170.50C101.25 170.62 102.55 170.85 104.00 171.10C105.45 171.35 106.52 171.18 108.70 172.00C110.88 172.82 114.58 174.22 117.10 176.00C119.62 177.78 122.32 181.20 123.80 182.70C125.28 184.20 124.38 183.22 126.00 185.00C127.62 186.78 130.85 190.75 133.50 193.40C136.15 196.05 139.11 198.53 141.90 200.90C144.69 203.27 147.47 205.22 150.25 207.60C153.03 209.97 155.81 212.78 158.60 215.15C161.39 217.53 164.20 219.62 167.00 221.85C169.80 224.08 172.61 226.64 175.40 228.55C178.19 230.46 180.97 231.76 183.75 233.30C186.53 234.84 189.39 236.52 192.10 237.80C194.81 239.08 197.28 239.77 200.00 241.00C202.72 242.23 205.61 243.67 208.40 245.20C211.19 246.73 213.97 248.58 216.75 250.20C219.53 251.82 222.59 253.72 225.10 254.90C227.61 256.08 229.00 256.90 231.80 257.30C234.60 257.70 238.83 257.42 241.90 257.30C244.97 257.18 247.47 256.94 250.25 256.60C253.03 256.26 255.81 255.70 258.60 255.25C261.39 254.80 264.20 254.59 267.00 253.90C269.80 253.21 272.61 252.27 275.40 251.10C278.19 249.93 281.32 247.92 283.75 246.90C286.18 245.88 287.29 245.83 290.00 245.00C292.71 244.17 296.67 243.05 300.00 241.90C303.33 240.75 306.67 239.35 310.00 238.10C313.33 236.85 316.67 235.70 320.00 234.40C323.33 233.10 326.62 231.70 330.00 230.30C333.38 228.90 337.15 227.07 340.25 226.00C343.35 224.93 345.81 224.45 348.60 223.90C351.39 223.35 354.20 223.10 357.00 222.70C359.80 222.30 362.61 221.78 365.40 221.50C368.19 221.22 370.97 221.25 373.75 221.00C376.53 220.75 379.66 220.37 382.10 220.00C384.54 219.63 385.96 219.12 388.40 218.80C390.84 218.48 393.97 218.33 396.75 218.10C399.53 217.87 402.31 217.73 405.10 217.40C407.89 217.07 410.70 216.47 413.50 216.10C416.30 215.73 419.11 215.35 421.90 215.20C424.69 215.05 427.47 215.25 430.25 215.20C433.03 215.15 435.81 215.03 438.60 214.90C441.39 214.77 444.20 214.73 447.00 214.40C449.80 214.07 452.61 213.45 455.40 212.90C458.19 212.35 460.97 211.75 463.75 211.10C466.53 210.45 469.39 209.85 472.10 209.00C474.81 208.15 478.10 206.77 480.00 206.00C481.90 205.23 481.52 205.36 483.50 204.40C485.48 203.44 489.11 201.65 491.90 200.25C494.69 198.85 497.47 197.46 500.25 196.00C503.03 194.54 505.81 193.08 508.60 191.50C511.39 189.92 514.20 188.39 517.00 186.50C519.80 184.61 522.97 181.90 525.40 180.15C527.83 178.40 530.57 176.69 531.60 176.00" fill="none" stroke="#4f92e6" stroke-width="1.0" stroke-linejoin="round" stroke-linecap="round"/>
<path d="M1.00 197.00C1.42 195.42 2.67 190.75 3.50 187.50C4.33 184.25 5.25 180.42 6.00 177.50C6.75 174.58 7.25 172.50 8.00 170.00C8.75 167.50 9.67 164.92 10.50 162.50C11.33 160.08 12.13 157.65 13.00 155.50C13.87 153.35 14.55 151.18 15.70 149.60C16.85 148.02 18.52 147.15 19.90 146.00C21.28 144.85 22.65 143.80 24.00 142.70C25.35 141.60 26.70 140.52 28.00 139.40C29.30 138.28 30.75 136.65 31.80 136.00C32.85 135.35 33.32 135.22 34.30 135.50C35.28 135.78 36.43 136.08 37.70 137.70C38.97 139.32 40.52 142.73 41.90 145.20C43.28 147.67 44.48 150.12 46.00 152.50C47.52 154.88 49.32 157.25 51.00 159.50C52.68 161.75 54.58 164.10 56.10 166.00C57.62 167.90 58.08 168.27 60.15 170.90C62.22 173.53 66.12 178.72 68.50 181.80C70.88 184.88 72.44 187.30 74.40 189.40C76.36 191.50 78.15 193.37 80.25 194.40C82.35 195.43 84.21 195.52 87.00 195.60C89.79 195.68 93.93 195.02 97.00 194.90C100.07 194.78 102.61 194.85 105.40 194.90C108.19 194.95 112.15 195.03 113.75 195.20C115.35 195.37 113.66 194.81 115.00 195.90C116.34 196.99 119.55 199.38 121.80 201.75C124.05 204.12 126.55 207.03 128.50 210.10C130.45 213.17 131.27 216.28 133.50 220.20C135.73 224.12 139.95 230.07 141.90 233.60C143.85 237.13 143.53 238.57 145.20 241.40C146.87 244.23 149.39 247.95 151.90 250.60C154.41 253.25 157.47 255.35 160.25 257.30C163.03 259.25 165.81 260.90 168.60 262.30C171.39 263.70 174.77 264.87 177.00 265.70C179.23 266.53 179.77 267.03 182.00 267.30C184.23 267.57 187.88 267.43 190.40 267.30C192.92 267.17 195.50 266.63 197.10 266.50C198.70 266.37 198.85 266.75 200.00 266.50C201.15 266.25 202.60 265.55 204.00 265.00C205.40 264.45 207.07 263.78 208.40 263.20C209.73 262.62 210.61 262.13 212.00 261.50C213.39 260.87 214.57 260.02 216.75 259.40C218.93 258.78 222.59 258.63 225.10 257.80C227.61 256.97 229.57 255.94 231.80 254.40C234.03 252.86 236.27 250.08 238.50 248.55C240.73 247.02 243.24 245.84 245.20 245.20C247.16 244.56 248.28 245.26 250.25 244.70C252.22 244.14 254.77 242.75 257.00 241.85C259.23 240.95 261.48 239.93 263.65 239.30C265.82 238.68 268.11 238.82 270.00 238.10C271.89 237.38 273.33 236.03 275.00 235.00C276.67 233.97 278.33 232.94 280.00 231.90C281.67 230.86 283.33 229.69 285.00 228.75C286.67 227.81 288.54 226.88 290.00 226.25C291.46 225.62 292.60 225.21 293.75 225.00C294.90 224.79 295.86 224.96 296.90 225.00C297.94 225.04 298.97 225.25 300.00 225.25C301.03 225.25 302.06 225.29 303.10 225.00C304.14 224.71 305.10 224.02 306.25 223.50C307.40 222.98 308.75 222.33 310.00 221.90C311.25 221.47 312.50 221.05 313.75 220.90C315.00 220.75 316.25 220.90 317.50 221.00C318.75 221.10 320.00 221.50 321.25 221.50C322.50 221.50 323.54 221.33 325.00 221.00C326.46 220.67 328.33 220.08 330.00 219.50C331.67 218.92 333.29 218.14 335.00 217.50C336.71 216.86 337.98 216.18 340.25 215.65C342.52 215.12 345.81 214.61 348.60 214.30C351.39 213.99 354.48 213.66 357.00 213.80C359.52 213.94 361.47 214.58 363.70 215.15C365.93 215.72 368.17 216.64 370.40 217.20C372.63 217.76 374.87 218.07 377.10 218.50C379.33 218.93 381.92 219.42 383.80 219.80C385.68 220.18 386.24 220.87 388.40 220.80C390.56 220.73 393.97 219.83 396.75 219.40C399.53 218.97 402.31 218.90 405.10 218.20C407.89 217.50 410.70 216.12 413.50 215.20C416.30 214.28 419.11 213.25 421.90 212.70C424.69 212.15 427.47 212.18 430.25 211.90C433.03 211.62 435.81 211.23 438.60 211.00C441.39 210.77 444.77 210.97 447.00 210.50C449.23 210.03 450.33 208.95 452.00 208.20C453.67 207.45 455.32 206.78 457.00 206.00C458.68 205.22 460.42 204.42 462.10 203.50C463.78 202.58 465.43 201.62 467.10 200.50C468.77 199.38 470.77 197.82 472.10 196.80C473.43 195.78 473.78 195.62 475.10 194.40C476.42 193.18 478.60 190.90 480.00 189.50C481.40 188.10 481.52 187.56 483.50 186.00C485.48 184.44 489.11 181.97 491.90 180.15C494.69 178.33 498.02 176.64 500.25 175.10C502.48 173.56 503.62 172.43 505.30 170.90C506.98 169.37 508.85 167.30 510.30 165.90C511.75 164.50 512.62 163.98 514.00 162.50C515.38 161.02 516.99 159.18 518.60 157.00C520.21 154.82 521.97 151.78 523.65 149.40C525.33 147.02 527.31 144.23 528.70 142.70C530.09 141.17 531.45 140.62 532.00 140.20" fill="none" stroke="#a45ad6" stroke-width="1.0" stroke-linejoin="round" stroke-linecap="round"/>
<path d="M0.80 159.50C1.33 157.92 2.80 153.58 4.00 150.00C5.20 146.42 6.67 141.50 8.00 138.00C9.33 134.50 10.68 131.15 12.00 129.00C13.32 126.85 14.57 124.93 15.90 125.10C17.23 125.27 18.65 128.18 20.00 130.00C21.35 131.82 22.67 134.33 24.00 136.00C25.33 137.67 26.70 138.68 28.00 140.00C29.30 141.32 30.50 142.62 31.80 143.90C33.10 145.18 34.45 145.80 35.80 147.70C37.15 149.60 38.70 153.00 39.90 155.30C41.10 157.60 41.86 158.75 43.00 161.50C44.14 164.25 45.42 168.72 46.75 171.80C48.08 174.88 49.61 177.63 51.00 180.00C52.39 182.37 53.58 184.58 55.10 186.00C56.62 187.42 58.67 188.00 60.15 188.50C61.63 189.00 62.61 188.72 64.00 189.00C65.39 189.28 66.77 189.17 68.50 190.20C70.23 191.23 72.44 193.52 74.40 195.20C76.36 196.88 78.58 198.98 80.25 200.25C81.92 201.52 83.01 202.66 84.40 202.80C85.79 202.94 87.06 202.23 88.60 201.10C90.14 199.97 91.97 197.53 93.65 196.00C95.33 194.47 97.03 192.95 98.70 191.90C100.38 190.85 102.15 190.10 103.70 189.70C105.25 189.30 106.62 189.50 108.00 189.50C109.38 189.50 110.68 188.50 112.00 189.70C113.32 190.90 114.55 193.57 115.90 196.70C117.25 199.82 118.57 204.53 120.10 208.45C121.63 212.37 123.57 216.29 125.10 220.20C126.63 224.11 128.05 228.10 129.30 231.90C130.55 235.70 131.48 239.88 132.60 243.00C133.72 246.12 134.18 248.22 136.00 250.60C137.82 252.98 140.85 255.90 143.50 257.30C146.15 258.70 149.11 258.30 151.90 259.00C154.69 259.70 157.47 260.38 160.25 261.50C163.03 262.62 166.37 264.31 168.60 265.70C170.83 267.09 171.69 269.02 173.65 269.85C175.61 270.68 178.39 270.98 180.35 270.70C182.31 270.42 183.72 269.03 185.40 268.20C187.08 267.37 188.47 266.32 190.40 265.70C192.33 265.08 195.40 264.82 197.00 264.50C198.60 264.18 198.83 264.22 200.00 263.80C201.17 263.38 202.60 262.55 204.00 262.00C205.40 261.45 207.07 261.08 208.40 260.50C209.73 259.92 210.61 259.38 212.00 258.50C213.39 257.62 214.84 256.22 216.75 255.25C218.66 254.28 221.22 253.39 223.45 252.70C225.68 252.01 228.06 252.22 230.15 251.10C232.24 249.98 234.04 247.68 236.00 246.00C237.96 244.32 239.80 242.12 241.90 241.00C244.00 239.88 246.37 239.43 248.60 239.30C250.83 239.17 253.07 240.47 255.30 240.20C257.53 239.93 259.77 238.40 262.00 237.70C264.23 237.00 266.75 236.98 268.70 236.00C270.65 235.02 272.03 233.20 273.70 231.80C275.37 230.40 277.02 229.00 278.70 227.60C280.38 226.20 282.07 224.77 283.75 223.40C285.43 222.03 287.29 220.43 288.75 219.40C290.21 218.38 291.25 217.25 292.50 217.25C293.75 217.25 295.00 218.43 296.25 219.40C297.50 220.38 298.86 222.21 300.00 223.10C301.14 223.99 301.85 224.43 303.10 224.75C304.35 225.07 305.93 225.12 307.50 225.00C309.07 224.88 311.04 224.52 312.50 224.00C313.96 223.48 315.00 222.67 316.25 221.90C317.50 221.13 318.54 220.13 320.00 219.40C321.46 218.67 323.33 218.03 325.00 217.50C326.67 216.97 328.30 216.70 330.00 216.25C331.70 215.80 333.49 215.12 335.20 214.80C336.91 214.48 338.29 214.67 340.25 214.30C342.21 213.93 344.72 212.80 346.95 212.60C349.18 212.40 351.69 212.73 353.65 213.10C355.61 213.47 357.02 214.03 358.70 214.80C360.38 215.57 362.03 216.67 363.70 217.70C365.37 218.73 366.75 220.25 368.70 221.00C370.65 221.75 373.17 222.12 375.40 222.20C377.63 222.28 380.22 221.82 382.10 221.50C383.98 221.18 384.82 220.73 386.70 220.25C388.58 219.77 391.17 219.16 393.40 218.60C395.63 218.04 397.87 217.32 400.10 216.90C402.33 216.48 404.57 216.66 406.80 216.10C409.03 215.54 411.55 214.40 413.50 213.55C415.45 212.70 416.82 211.61 418.50 211.00C420.18 210.39 421.59 210.03 423.55 209.90C425.51 209.77 428.02 209.87 430.25 210.20C432.48 210.53 434.72 211.62 436.95 211.90C439.18 212.18 441.69 212.18 443.65 211.90C445.61 211.62 447.31 211.18 448.70 210.20C450.09 209.22 450.62 207.53 452.00 206.00C453.38 204.47 455.50 202.47 457.00 201.00C458.50 199.53 459.65 198.55 461.00 197.20C462.35 195.85 463.58 194.07 465.10 192.90C466.62 191.73 468.43 191.63 470.10 190.20C471.77 188.77 473.43 185.98 475.10 184.30C476.78 182.62 478.47 181.27 480.15 180.15C481.83 179.03 483.52 178.86 485.20 177.60C486.88 176.34 488.53 173.72 490.20 172.60C491.87 171.48 493.52 171.45 495.20 170.90C496.88 170.35 498.57 170.27 500.25 169.30C501.93 168.33 503.76 166.90 505.30 165.10C506.84 163.30 507.97 160.85 509.50 158.50C511.03 156.15 512.98 153.75 514.50 151.00C516.02 148.25 517.08 144.92 518.60 142.00C520.12 139.08 521.97 135.90 523.65 133.50C525.33 131.10 527.31 129.00 528.70 127.60C530.09 126.20 531.45 125.52 532.00 125.10" fill="none" stroke="#f2a63a" stroke-width="1.0" stroke-linejoin="round" stroke-linecap="round"/>
<line x1="1.25" y1="128.6" x2="566" y2="128.6" stroke="#b5365a" stroke-width="1.1" stroke-dasharray="3.4,3.43"/>
<rect x="565.3" y="122.9" width="27.3" height="8.6" fill="#d3103c"/>
<text x="567.0" y="130.5" font-size="9.6" fill="#ffffff" textLength="24.6" lengthAdjust="spacingAndGlyphs" font-weight="bold">0.4220</text>
<path d="M7.6 71.4 H4.6 V74.6 M3.2 73.2 L4.6 74.9 L6 73.2" fill="none" stroke="#555" stroke-width="0.8"/>
<text x="10.5" y="74.2" font-size="8.8" fill="#666" textLength="21.6" lengthAdjust="spacingAndGlyphs">0.4340</text>
<path d="M175.3 293.2 H172.3 V290 M170.9 291.4 L172.3 289.7 L173.7 291.4" fill="none" stroke="#555" stroke-width="0.8"/>
<text x="178.6" y="294.8" font-size="8.8" fill="#666" textLength="20.4" lengthAdjust="spacingAndGlyphs">0.3847</text>
<g>
<rect x="2.70" y="320.60" width="2.6" height="55.30" fill="#0a8a58"/>
<rect x="6.70" y="358.65" width="2.6" height="17.25" fill="#0a8a58"/>
<rect x="10.69" y="363.70" width="2.6" height="12.20" fill="#e2062c"/>
<rect x="14.68" y="354.10" width="2.6" height="21.80" fill="#e2062c"/>
<rect x="18.68" y="365.00" width="2.6" height="10.90" fill="#e2062c"/>
<rect x="22.68" y="364.20" width="2.6" height="11.70" fill="#0a8a58"/>
<rect x="26.67" y="362.90" width="2.6" height="13.00" fill="#0a8a58"/>
<rect x="30.66" y="370.90" width="2.6" height="5.00" fill="#0a8a58"/>
<rect x="34.66" y="366.70" width="2.6" height="9.20" fill="#e2062c"/>
<rect x="38.66" y="366.40" width="2.6" height="9.50" fill="#e2062c"/>
<rect x="42.65" y="361.70" width="2.6" height="14.20" fill="#e2062c"/>
<rect x="46.65" y="369.20" width="2.6" height="6.70" fill="#0a8a58"/>
<rect x="50.64" y="367.20" width="2.6" height="8.70" fill="#0a8a58"/>
<rect x="54.64" y="369.20" width="2.6" height="6.70" fill="#e2062c"/>
<rect x="58.63" y="369.20" width="2.6" height="6.70" fill="#e2062c"/>
<rect x="62.63" y="366.70" width="2.6" height="9.20" fill="#0a8a58"/>
<rect x="66.62" y="366.70" width="2.6" height="9.20" fill="#e2062c"/>
<rect x="70.62" y="363.90" width="2.6" height="12.00" fill="#0a8a58"/>
<rect x="74.61" y="369.70" width="2.6" height="6.20" fill="#e2062c"/>
<rect x="78.61" y="369.20" width="2.6" height="6.70" fill="#0a8a58"/>
<rect x="82.60" y="372.90" width="2.6" height="3.00" fill="#e2062c"/>
<rect x="86.59" y="370.90" width="2.6" height="5.00" fill="#0a8a58"/>
<rect x="90.59" y="370.00" width="2.6" height="5.90" fill="#0a8a58"/>
<rect x="94.59" y="371.50" width="2.6" height="4.40" fill="#0a8a58"/>
<rect x="98.58" y="372.55" width="2.6" height="3.35" fill="#e2062c"/>
<rect x="102.58" y="373.40" width="2.6" height="2.50" fill="#e2062c"/>
<rect x="106.57" y="373.40" width="2.6" height="2.50" fill="#0a8a58"/>
<rect x="110.57" y="371.70" width="2.6" height="4.20" fill="#e2062c"/>
<rect x="114.56" y="360.00" width="2.6" height="15.90" fill="#e2062c"/>
<rect x="118.56" y="360.80" width="2.6" height="15.10" fill="#e2062c"/>
<rect x="122.55" y="365.00" width="2.6" height="10.90" fill="#0a8a58"/>
<rect x="126.55" y="368.00" width="2.6" height="7.90" fill="#e2062c"/>
<rect x="130.54" y="365.00" width="2.6" height="10.90" fill="#e2062c"/>
<rect x="134.53" y="365.90" width="2.6" height="10.00" fill="#0a8a58"/>
<rect x="138.53" y="368.00" width="2.6" height="7.90" fill="#0a8a58"/>
<rect x="142.53" y="372.55" width="2.6" height="3.35" fill="#e2062c"/>
<rect x="146.52" y="371.40" width="2.6" height="4.50" fill="#e2062c"/>
<rect x="150.51" y="371.70" width="2.6" height="4.20" fill="#0a8a58"/>
<rect x="154.51" y="369.20" width="2.6" height="6.70" fill="#e2062c"/>
<rect x="158.50" y="368.00" width="2.6" height="7.90" fill="#0a8a58"/>
<rect x="162.50" y="370.00" width="2.6" height="5.90" fill="#e2062c"/>
<rect x="166.50" y="369.70" width="2.6" height="6.20" fill="#e2062c"/>
<rect x="170.49" y="364.70" width="2.6" height="11.20" fill="#e2062c"/>
<rect x="174.48" y="367.50" width="2.6" height="8.40" fill="#0a8a58"/>
<rect x="178.48" y="372.55" width="2.6" height="3.35" fill="#e2062c"/>
<rect x="182.47" y="366.90" width="2.6" height="9.00" fill="#0a8a58"/>
<rect x="186.47" y="369.20" width="2.6" height="6.70" fill="#e2062c"/>
<rect x="190.47" y="370.50" width="2.6" height="5.40" fill="#e2062c"/>
<rect x="194.46" y="370.50" width="2.6" height="5.40" fill="#0a8a58"/>
<rect x="198.45" y="363.00" width="2.6" height="12.90" fill="#0a8a58"/>
<rect x="202.45" y="370.50" width="2.6" height="5.40" fill="#0a8a58"/>
<rect x="206.44" y="367.50" width="2.6" height="8.40" fill="#0a8a58"/>
<rect x="210.44" y="370.90" width="2.6" height="5.00" fill="#e2062c"/>
<rect x="214.44" y="373.40" width="2.6" height="2.50" fill="#e2062c"/>
<rect x="218.43" y="373.90" width="2.6" height="2.00" fill="#0a8a58"/>
<rect x="222.42" y="371.70" width="2.6" height="4.20" fill="#0a8a58"/>
<rect x="226.42" y="373.40" width="2.6" height="2.50" fill="#e2062c"/>
<rect x="230.41" y="370.90" width="2.6" height="5.00" fill="#0a8a58"/>
<rect x="234.41" y="372.55" width="2.6" height="3.35" fill="#0a8a58"/>
<rect x="238.41" y="373.10" width="2.6" height="2.80" fill="#0a8a58"/>
<rect x="242.40" y="373.40" width="2.6" height="2.50" fill="#e2062c"/>
<rect x="246.39" y="374.20" width="2.6" height="1.70" fill="#0a8a58"/>
<rect x="250.39" y="373.40" width="2.6" height="2.50" fill="#e2062c"/>
<rect x="254.38" y="369.70" width="2.6" height="6.20" fill="#0a8a58"/>
<rect x="258.38" y="368.70" width="2.6" height="7.20" fill="#0a8a58"/>
<rect x="262.38" y="372.55" width="2.6" height="3.35" fill="#0a8a58"/>
<rect x="266.37" y="371.70" width="2.6" height="4.20" fill="#e2062c"/>
<rect x="270.37" y="371.40" width="2.6" height="4.50" fill="#0a8a58"/>
<rect x="274.36" y="364.70" width="2.6" height="11.20" fill="#0a8a58"/>
<rect x="278.36" y="358.00" width="2.6" height="17.90" fill="#0a8a58"/>
<rect x="282.35" y="368.00" width="2.6" height="7.90" fill="#e2062c"/>
<rect x="286.34" y="369.20" width="2.6" height="6.70" fill="#e2062c"/>
<rect x="290.34" y="368.70" width="2.6" height="7.20" fill="#e2062c"/>
<rect x="294.33" y="370.00" width="2.6" height="5.90" fill="#e2062c"/>
<rect x="298.33" y="370.90" width="2.6" height="5.00" fill="#e2062c"/>
<rect x="302.32" y="370.00" width="2.6" height="5.90" fill="#0a8a58"/>
<rect x="306.32" y="370.90" width="2.6" height="5.00" fill="#0a8a58"/>
<rect x="310.31" y="372.55" width="2.6" height="3.35" fill="#0a8a58"/>
<rect x="314.31" y="373.40" width="2.6" height="2.50" fill="#e2062c"/>
<rect x="318.31" y="373.70" width="2.6" height="2.20" fill="#e2062c"/>
<rect x="322.30" y="373.10" width="2.6" height="2.80" fill="#0a8a58"/>
<rect x="326.30" y="365.00" width="2.6" height="10.90" fill="#0a8a58"/>
<rect x="330.29" y="370.00" width="2.6" height="5.90" fill="#e2062c"/>
<rect x="334.29" y="371.70" width="2.6" height="4.20" fill="#e2062c"/>
<rect x="338.28" y="373.10" width="2.6" height="2.80" fill="#0a8a58"/>
<rect x="342.27" y="372.55" width="2.6" height="3.35" fill="#0a8a58"/>
<rect x="346.27" y="371.70" width="2.6" height="4.20" fill="#0a8a58"/>
<rect x="350.26" y="372.05" width="2.6" height="3.85" fill="#e2062c"/>
<rect x="354.26" y="372.05" width="2.6" height="3.85" fill="#e2062c"/>
<rect x="358.25" y="372.05" width="2.6" height="3.85" fill="#0a8a58"/>
<rect x="362.25" y="373.60" width="2.6" height="2.30" fill="#e2062c"/>
<rect x="366.25" y="374.70" width="2.6" height="1.20" fill="#0a8a58"/>
<rect x="370.24" y="374.20" width="2.6" height="1.70" fill="#e2062c"/>
<rect x="374.24" y="373.70" width="2.6" height="2.20" fill="#e2062c"/>
<rect x="378.23" y="373.70" width="2.6" height="2.20" fill="#0a8a58"/>
<rect x="382.23" y="370.40" width="2.6" height="5.50" fill="#e2062c"/>
<rect x="386.22" y="372.05" width="2.6" height="3.85" fill="#0a8a58"/>
<rect x="390.21" y="373.10" width="2.6" height="2.80" fill="#0a8a58"/>
<rect x="394.21" y="372.55" width="2.6" height="3.35" fill="#e2062c"/>
<rect x="398.20" y="373.10" width="2.6" height="2.80" fill="#e2062c"/>
<rect x="402.20" y="373.40" width="2.6" height="2.50" fill="#0a8a58"/>
<rect x="406.19" y="371.40" width="2.6" height="4.50" fill="#0a8a58"/>
<rect x="410.19" y="372.55" width="2.6" height="3.35" fill="#0a8a58"/>
<rect x="414.19" y="369.70" width="2.6" height="6.20" fill="#0a8a58"/>
<rect x="418.18" y="374.20" width="2.6" height="1.70" fill="#e2062c"/>
<rect x="422.18" y="373.70" width="2.6" height="2.20" fill="#0a8a58"/>
<rect x="426.17" y="373.70" width="2.6" height="2.20" fill="#e2062c"/>
<rect x="430.17" y="373.70" width="2.6" height="2.20" fill="#e2062c"/>
<rect x="434.16" y="373.70" width="2.6" height="2.20" fill="#e2062c"/>
<rect x="438.15" y="374.20" width="2.6" height="1.70" fill="#0a8a58"/>
<rect x="442.15" y="374.70" width="2.6" height="1.20" fill="#0a8a58"/>
<rect x="446.14" y="368.70" width="2.6" height="7.20" fill="#0a8a58"/>
<rect x="450.14" y="366.70" width="2.6" height="9.20" fill="#0a8a58"/>
<rect x="454.13" y="372.55" width="2.6" height="3.35" fill="#e2062c"/>
<rect x="458.13" y="371.70" width="2.6" height="4.20" fill="#0a8a58"/>
<rect x="462.12" y="373.10" width="2.6" height="2.80" fill="#e2062c"/>
<rect x="466.12" y="372.05" width="2.6" height="3.85" fill="#e2062c"/>
<rect x="470.12" y="357.50" width="2.6" height="18.40" fill="#0a8a58"/>
<rect x="474.11" y="363.00" width="2.6" height="12.90" fill="#0a8a58"/>
<rect x="478.11" y="364.20" width="2.6" height="11.70" fill="#e2062c"/>
<rect x="482.10" y="370.00" width="2.6" height="5.90" fill="#e2062c"/>
<rect x="486.10" y="372.05" width="2.6" height="3.85" fill="#0a8a58"/>
<rect x="490.09" y="370.40" width="2.6" height="5.50" fill="#0a8a58"/>
<rect x="494.08" y="372.05" width="2.6" height="3.85" fill="#e2062c"/>
<rect x="498.08" y="370.00" width="2.6" height="5.90" fill="#0a8a58"/>
<rect x="502.07" y="371.70" width="2.6" height="4.20" fill="#0a8a58"/>
<rect x="506.07" y="362.50" width="2.6" height="13.40" fill="#0a8a58"/>
<rect x="510.06" y="354.10" width="2.6" height="21.80" fill="#0a8a58"/>
<rect x="514.06" y="361.70" width="2.6" height="14.20" fill="#0a8a58"/>
<rect x="518.06" y="351.60" width="2.6" height="24.30" fill="#0a8a58"/>
<rect x="522.05" y="331.90" width="2.6" height="44.00" fill="#0a8a58"/>
<rect x="526.05" y="368.70" width="2.6" height="7.20" fill="#e2062c"/>
<rect x="530.04" y="373.10" width="2.6" height="2.80" fill="#e2062c"/>
</g>
<path d="M0.80 346.00C2.07 346.42 5.74 348.13 8.40 348.50C11.06 348.87 14.67 347.92 16.75 348.20C18.83 348.48 19.51 349.17 20.90 350.20C22.29 351.23 23.70 353.57 25.10 354.40C26.50 355.23 27.90 354.65 29.30 355.20C30.70 355.75 31.40 356.45 33.50 357.70C35.60 358.95 39.11 361.44 41.90 362.70C44.69 363.96 47.47 364.60 50.25 365.25C53.03 365.90 55.81 366.26 58.60 366.60C61.39 366.94 64.20 367.02 67.00 367.30C69.80 367.58 72.61 367.95 75.40 368.30C78.19 368.65 80.97 369.13 83.75 369.40C86.53 369.67 89.66 369.82 92.10 369.90C94.54 369.98 95.96 369.70 98.40 369.90C100.84 370.10 103.97 371.03 106.75 371.10C109.53 371.17 112.31 370.77 115.10 370.30C117.89 369.83 120.70 369.00 123.50 368.30C126.30 367.60 129.11 366.27 131.90 366.10C134.69 365.93 137.47 367.22 140.25 367.30C143.03 367.38 145.81 366.43 148.60 366.60C151.39 366.77 154.20 367.83 157.00 368.30C159.80 368.77 162.61 369.30 165.40 369.40C168.19 369.50 170.97 368.98 173.75 368.90C176.53 368.82 179.39 368.90 182.10 368.90C184.81 368.90 187.56 368.90 190.00 368.90C192.44 368.90 194.23 368.95 196.75 368.90C199.27 368.85 202.31 368.52 205.10 368.60C207.89 368.68 210.70 369.07 213.50 369.40C216.30 369.73 219.11 370.32 221.90 370.60C224.69 370.88 227.47 370.88 230.25 371.10C233.03 371.33 235.81 371.67 238.60 371.95C241.39 372.23 244.77 372.57 247.00 372.80C249.23 373.03 250.05 373.30 252.00 373.30C253.95 373.30 256.18 373.03 258.70 372.80C261.22 372.57 264.58 372.32 267.10 371.95C269.62 371.58 271.92 371.03 273.80 370.60C275.68 370.18 276.24 369.78 278.40 369.40C280.56 369.02 283.97 368.43 286.75 368.30C289.53 368.17 292.31 368.55 295.10 368.60C297.89 368.65 300.70 368.60 303.50 368.60C306.30 368.60 309.67 368.32 311.90 368.60C314.13 368.88 314.95 369.88 316.90 370.30C318.85 370.72 321.08 371.05 323.60 371.10C326.12 371.15 329.21 370.60 332.00 370.60C334.79 370.60 337.57 370.93 340.35 371.10C343.13 371.27 345.91 371.46 348.70 371.60C351.49 371.74 354.58 371.89 357.10 371.95C359.62 372.01 361.92 371.77 363.80 371.95C365.68 372.12 366.24 372.77 368.40 373.00C370.56 373.23 373.97 373.33 376.75 373.30C379.53 373.27 382.31 372.88 385.10 372.80C387.89 372.72 390.70 372.80 393.50 372.80C396.30 372.80 399.11 372.80 401.90 372.80C404.69 372.80 407.47 372.80 410.25 372.80C413.03 372.80 415.81 372.72 418.60 372.80C421.39 372.88 424.20 373.17 427.00 373.30C429.80 373.43 432.61 373.52 435.40 373.60C438.19 373.68 440.97 373.93 443.75 373.80C446.53 373.67 449.66 373.11 452.10 372.80C454.54 372.49 455.96 372.15 458.40 371.95C460.84 371.75 463.97 372.03 466.75 371.60C469.53 371.18 472.31 369.95 475.10 369.40C477.89 368.85 480.70 368.43 483.50 368.30C486.30 368.17 489.11 368.55 491.90 368.60C494.69 368.65 497.47 368.65 500.25 368.60C503.03 368.55 505.81 368.72 508.60 368.30C511.39 367.88 514.77 366.88 517.00 366.10C519.23 365.32 520.75 364.30 522.00 363.60C523.25 362.90 522.83 362.18 524.50 361.90C526.17 361.62 530.75 361.90 532.00 361.90" fill="none" stroke="#a45ad6" stroke-width="0.9" stroke-linejoin="round" stroke-linecap="round"/>
<path d="M0.80 346.00C2.07 346.55 5.74 348.75 8.40 349.30C11.06 349.85 14.67 348.32 16.75 349.30C18.83 350.28 19.51 353.25 20.90 355.20C22.29 357.15 23.70 359.75 25.10 361.00C26.50 362.25 27.90 361.99 29.30 362.70C30.70 363.41 31.40 364.68 33.50 365.25C35.60 365.82 39.11 365.68 41.90 366.10C44.69 366.53 47.47 367.43 50.25 367.80C53.03 368.17 55.81 368.30 58.60 368.30C61.39 368.30 64.20 367.70 67.00 367.80C69.80 367.90 72.61 368.55 75.40 368.90C78.19 369.25 80.97 369.67 83.75 369.90C86.53 370.13 89.66 370.10 92.10 370.30C94.54 370.50 95.96 370.83 98.40 371.10C100.84 371.38 104.24 371.95 106.75 371.95C109.26 371.95 111.49 371.66 113.45 371.10C115.41 370.54 116.83 369.43 118.50 368.60C120.17 367.77 121.27 366.88 123.50 366.10C125.73 365.32 129.38 363.90 131.90 363.90C134.42 363.90 136.37 365.32 138.60 366.10C140.83 366.88 142.79 367.97 145.30 368.60C147.81 369.23 150.87 369.77 153.65 369.90C156.43 370.03 159.21 369.67 162.00 369.40C164.79 369.13 167.88 368.48 170.40 368.30C172.92 368.12 174.87 368.20 177.10 368.30C179.33 368.40 181.65 368.72 183.80 368.90C185.95 369.08 187.84 369.40 190.00 369.40C192.16 369.40 194.23 369.03 196.75 368.90C199.27 368.77 202.31 368.52 205.10 368.60C207.89 368.68 210.70 369.07 213.50 369.40C216.30 369.73 219.11 370.32 221.90 370.60C224.69 370.88 227.47 370.88 230.25 371.10C233.03 371.33 235.81 371.67 238.60 371.95C241.39 372.23 244.77 372.52 247.00 372.80C249.23 373.08 250.05 373.60 252.00 373.60C253.95 373.60 256.18 373.08 258.70 372.80C261.22 372.52 264.58 372.45 267.10 371.95C269.62 371.45 272.20 370.36 273.80 369.80C275.40 369.24 275.10 369.08 276.70 368.60C278.30 368.12 281.17 367.46 283.40 366.90C285.63 366.34 288.15 365.25 290.10 365.25C292.05 365.25 293.43 366.21 295.10 366.90C296.78 367.59 297.92 368.98 300.15 369.40C302.38 369.82 305.99 369.12 308.50 369.40C311.01 369.68 312.97 370.68 315.20 371.10C317.43 371.53 319.67 371.95 321.90 371.95C324.13 371.95 326.08 371.38 328.60 371.10C331.12 370.83 334.20 370.30 337.00 370.30C339.80 370.30 342.61 370.83 345.40 371.10C348.19 371.38 350.97 371.81 353.75 371.95C356.53 372.09 359.66 371.72 362.10 371.95C364.54 372.18 365.96 373.02 368.40 373.30C370.84 373.58 373.97 373.68 376.75 373.60C379.53 373.52 382.31 372.93 385.10 372.80C387.89 372.67 390.70 372.80 393.50 372.80C396.30 372.80 399.11 372.80 401.90 372.80C404.69 372.80 407.47 372.80 410.25 372.80C413.03 372.80 415.81 372.72 418.60 372.80C421.39 372.88 424.20 373.17 427.00 373.30C429.80 373.43 432.61 373.49 435.40 373.60C438.19 373.71 440.97 374.08 443.75 373.95C446.53 373.82 449.66 373.27 452.10 372.80C454.54 372.33 456.23 371.52 458.40 371.10C460.57 370.68 463.15 370.50 465.10 370.30C467.05 370.10 468.43 370.32 470.10 369.90C471.77 369.48 473.43 368.57 475.10 367.80C476.78 367.03 478.75 365.73 480.15 365.25C481.55 364.77 482.11 364.76 483.50 364.90C484.89 365.04 486.82 365.53 488.50 366.10C490.18 366.67 491.59 367.75 493.55 368.30C495.51 368.85 498.02 369.30 500.25 369.40C502.48 369.50 504.99 369.32 506.95 368.90C508.91 368.48 510.32 367.65 512.00 366.90C513.67 366.15 515.61 365.52 517.00 364.40C518.39 363.28 519.23 362.02 520.35 360.20C521.47 358.38 522.73 354.67 523.70 353.50C524.68 352.33 525.22 352.92 526.20 353.20C527.18 353.48 528.63 354.45 529.60 355.20C530.57 355.95 531.60 357.28 532.00 357.70" fill="none" stroke="#f2a63a" stroke-width="0.9" stroke-linejoin="round" stroke-linecap="round"/>
<text x="570.2" y="87.2" font-size="9.2" fill="#555" textLength="25" lengthAdjust="spacingAndGlyphs">0.4320</text>
<text x="570.2" y="121.2" font-size="9.2" fill="#555" textLength="25" lengthAdjust="spacingAndGlyphs">0.4240</text>
<text x="570.2" y="155.2" font-size="9.2" fill="#555" textLength="25" lengthAdjust="spacingAndGlyphs">0.4160</text>
<text x="570.2" y="189.2" font-size="9.2" fill="#555" textLength="25" lengthAdjust="spacingAndGlyphs">0.4080</text>
<text x="570.2" y="223.2" font-size="9.2" fill="#555" textLength="25" lengthAdjust="spacingAndGlyphs">0.4000</text>
<text x="570.2" y="257.2" font-size="9.2" fill="#555" textLength="25" lengthAdjust="spacingAndGlyphs">0.3920</text>
<text x="570.2" y="291.2" font-size="9.2" fill="#555" textLength="25" lengthAdjust="spacingAndGlyphs">0.3840</text>
<text x="570.3" y="325.7" font-size="9" fill="#5a5a5a" textLength="19" lengthAdjust="spacingAndGlyphs">4.8M</text>
<text x="570.3" y="351.7" font-size="9" fill="#5a5a5a" textLength="19" lengthAdjust="spacingAndGlyphs">2.4M</text>
<text x="570.3" y="369.7" font-size="9" fill="#5a5a5a" textLength="19" lengthAdjust="spacingAndGlyphs">800K</text>
<text x="45.7" y="393.8" font-size="9" fill="#666" textLength="20.6" lengthAdjust="spacingAndGlyphs">03:50</text>
<text x="125.7" y="393.8" font-size="9" fill="#666" textLength="20.6" lengthAdjust="spacingAndGlyphs">05:30</text>
<text x="205.7" y="393.8" font-size="9" fill="#666" textLength="20.6" lengthAdjust="spacingAndGlyphs">07:10</text>
<text x="285.7" y="393.8" font-size="9" fill="#666" textLength="20.6" lengthAdjust="spacingAndGlyphs">08:50</text>
<text x="365.7" y="393.8" font-size="9" fill="#666" textLength="20.6" lengthAdjust="spacingAndGlyphs">10:30</text>
<text x="445.7" y="393.8" font-size="9" fill="#666" textLength="20.6" lengthAdjust="spacingAndGlyphs">12:10</text>
<text x="9.2" y="20.0" font-size="12" fill="#2f2f2f" textLength="51" lengthAdjust="spacingAndGlyphs" stroke="#2f2f2f" stroke-width="0.2">XRP/USDT</text>
<text x="63.8" y="19.1" font-size="8.5" fill="#9a9a9a" textLength="24.2" lengthAdjust="spacingAndGlyphs">币安网</text>
<text x="96.4" y="20.4" font-size="12.2" fill="#0f875a" textLength="41.8" lengthAdjust="spacingAndGlyphs" stroke="#0f875a" stroke-width="0.3">$0.4220</text>
<text x="147" y="19.9" font-size="9.6" fill="#0f875a" textLength="30.1" lengthAdjust="spacingAndGlyphs" stroke="#0f875a" stroke-width="0.2">+2.55%</text>
<text x="214.3" y="20.1" font-size="9.2" fill="#444" textLength="17.6" lengthAdjust="spacingAndGlyphs">周期</text>
<path d="M237.2 15.6 L239.4 17.8 L241.6 15.6" fill="none" stroke="#777" stroke-width="0.8"/>
<text x="259.6" y="20.3" font-size="9.7" fill="#444" textLength="13.4" lengthAdjust="spacingAndGlyphs">1分</text>
<text x="284.7" y="20.3" font-size="9.7" fill="#4a7de2" textLength="13.8" lengthAdjust="spacingAndGlyphs">5分</text>
<text x="309.9" y="20.3" font-size="9.7" fill="#444" textLength="19.1" lengthAdjust="spacingAndGlyphs">30分</text>
<text x="341.2" y="20.3" font-size="9.7" fill="#444" textLength="21.8" lengthAdjust="spacingAndGlyphs">1小时</text>
<text x="374.7" y="20.3" font-size="9.7" fill="#444" textLength="23" lengthAdjust="spacingAndGlyphs">4小时</text>
<text x="409.9" y="20.1" font-size="9.2" fill="#444" textLength="17.9" lengthAdjust="spacingAndGlyphs">日线</text>
<path d="M481.6 13 V19.6 H489.2 M482.8 17.6 L484.6 15.4 L486.2 16.8 L488.6 14" fill="none" stroke="#666" stroke-width="0.8"/>
<text x="491.2" y="19.6" font-size="9.2" fill="#444" textLength="18.2" lengthAdjust="spacingAndGlyphs">指标</text>
<path d="M525.3 11.9 L528.8 13.8 V17.6 L525.3 19.5 L521.8 17.6 V13.8 Z" fill="none" stroke="#666" stroke-width="0.8"/><circle cx="525.3" cy="15.7" r="1.5" fill="none" stroke="#666" stroke-width="0.8"/>
<text x="531.1" y="19.6" font-size="9.2" fill="#444" textLength="18.6" lengthAdjust="spacingAndGlyphs">设置</text>
<path d="M562.4 14.2 H564.4 L565.3 12.8 H567.7 L568.6 14.2 H570.6 V19.7 H562.4 Z" fill="none" stroke="#666" stroke-width="0.8"/><circle cx="566.5" cy="16.8" r="1.5" fill="none" stroke="#666" stroke-width="0.8"/>
<text x="572.9" y="19.6" font-size="9.2" fill="#444" textLength="18" lengthAdjust="spacingAndGlyphs">保存</text>
<text x="6.7" y="45.2" font-size="8.3" fill="#757575" textLength="10.2" lengthAdjust="spacingAndGlyphs">开:</text>
<text x="16.9" y="45.4" font-size="8.6" fill="#c23a5a" textLength="25.0" lengthAdjust="spacingAndGlyphs">0.4228</text>
<text x="52.8" y="45.2" font-size="8.3" fill="#757575" textLength="10.2" lengthAdjust="spacingAndGlyphs">高:</text>
<text x="63.0" y="45.4" font-size="8.6" fill="#c23a5a" textLength="24.4" lengthAdjust="spacingAndGlyphs">0.4235</text>
<text x="99.2" y="45.2" font-size="8.3" fill="#757575" textLength="10.2" lengthAdjust="spacingAndGlyphs">低:</text>
<text x="109.4" y="45.4" font-size="8.6" fill="#c23a5a" textLength="24.5" lengthAdjust="spacingAndGlyphs">0.4219</text>
<text x="144.4" y="45.2" font-size="8.3" fill="#757575" textLength="10.2" lengthAdjust="spacingAndGlyphs">收:</text>
<text x="154.6" y="45.4" font-size="8.6" fill="#c23a5a" textLength="25.0" lengthAdjust="spacingAndGlyphs">0.4220</text>
<text x="190.4" y="45.2" font-size="8.3" fill="#757575" textLength="18.4" lengthAdjust="spacingAndGlyphs">涨幅:</text>
<text x="208.8" y="45.4" font-size="8.6" fill="#c23a5a" textLength="25.6" lengthAdjust="spacingAndGlyphs">-0.19%</text>
<text x="246.2" y="45.2" font-size="8.3" fill="#757575" textLength="17.4" lengthAdjust="spacingAndGlyphs">波幅:</text>
<text x="263.6" y="45.4" font-size="8.6" fill="#c23a5a" textLength="23.15" lengthAdjust="spacingAndGlyphs">0.38%</text>
<text x="7" y="58.4" font-size="8.6" fill="#666" textLength="56.6" lengthAdjust="spacingAndGlyphs">MA(5,10,30,60)</text>
<text x="74.9" y="58.4" font-size="8.6" fill="#f2a63a" textLength="46.9" lengthAdjust="spacingAndGlyphs">MA5: 0.4227</text>
<text x="133.9" y="58.4" font-size="8.6" fill="#a45ad6" textLength="51.2" lengthAdjust="spacingAndGlyphs">MA10: 0.4191</text>
<text x="196.75" y="58.4" font-size="8.6" fill="#4f92e6" textLength="51.9" lengthAdjust="spacingAndGlyphs">MA30: 0.4107</text>
<text x="260" y="58.4" font-size="8.6" fill="#4fb184" textLength="51.5" lengthAdjust="spacingAndGlyphs">MA60: 0.4059</text>
<text x="7" y="320.7" font-size="8.6" fill="#666" textLength="36.8" lengthAdjust="spacingAndGlyphs">VOL(5,10)</text>
<text x="55" y="320.7" font-size="8.6" fill="#f2a63a" textLength="50" lengthAdjust="spacingAndGlyphs">MA5: 1.695M</text>
<text x="116.25" y="320.7" font-size="8.6" fill="#a45ad6" textLength="55" lengthAdjust="spacingAndGlyphs">MA10: 1.305M</text>
<text x="182" y="320.7" font-size="8.6" fill="#c23a5a" textLength="73.4" lengthAdjust="spacingAndGlyphs">VOLUME: 280.206K</text>
</svg>
</body></html>
